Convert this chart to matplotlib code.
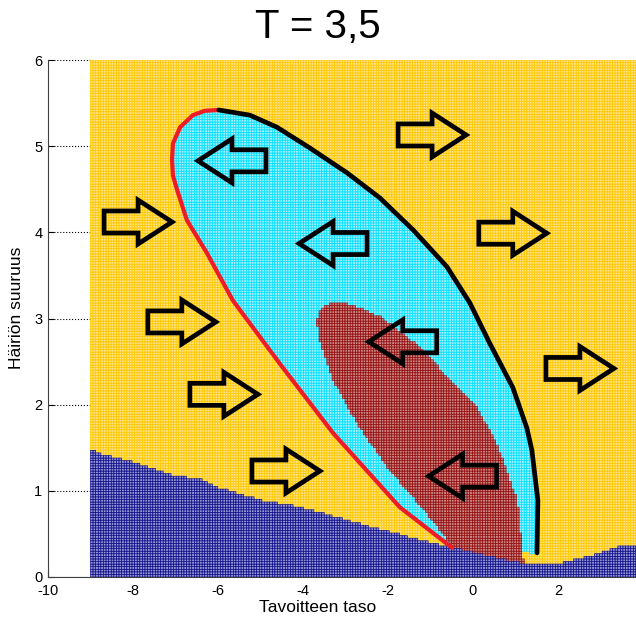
import numpy as np
import matplotlib
matplotlib.use('Agg')
import matplotlib.pyplot as plt
from matplotlib.colors import ListedColormap
from matplotlib.path import Path

plt.rcParams['font.family'] = ['Liberation Sans', 'DejaVu Sans']
plt.rcParams['axes.unicode_minus'] = False

# lower zone boundary (blue below)
blue_x = [-9.0, -8.85, -8.0, -7.06, -6.42, -6.02, -5.01, -4.07, -2.55, -1.25, -0.07, 1.11, 1.88, 2.68, 3.46, 3.9]
blue_y = [1.48, 1.44, 1.33, 1.18, 1.13, 1.04, 0.89, 0.81, 0.60, 0.43, 0.29, 0.16, 0.14, 0.23, 0.35, 0.37]

# red boundary, top to bottom
red_x = [-5.98, -6.31, -6.59, -6.89, -7.06, -7.08, -7.06, -6.96, -6.73, -6.26, -5.65, -4.52, -3.29, -1.72, -0.49]
red_y = [5.42, 5.41, 5.36, 5.22, 5.03, 4.84, 4.66, 4.49, 4.14, 3.76, 3.21, 2.46, 1.67, 0.81, 0.34]

# black boundary, top to bottom
black_x = [-5.98, -5.25, -4.61, -3.84, -2.96, -2.19, -1.41, -0.61, -0.07, 0.40, 0.94, 1.27, 1.39, 1.53, 1.51]
black_y = [5.42, 5.36, 5.22, 4.98, 4.69, 4.40, 4.03, 3.60, 3.18, 2.71, 2.20, 1.73, 1.47, 0.89, 0.28]

# inner (brown) zone outline
brown_x = [-3.67, -3.60, -3.36, -3.01, -2.73, -2.19, -1.25, -0.38, 0.05, 0.56, 1.04, 1.18, 1.18,
           -0.49, -0.47, -1.08, -2.02, -2.73, -3.29, -3.60]
brown_y = [2.98, 3.10, 3.17, 3.17, 3.13, 3.02, 2.67, 2.20, 2.00, 1.55, 0.89, 0.20, 0.0,
           0.0, 0.35, 0.74, 1.28, 1.79, 2.29, 2.75]

# direction arrows: centre and sense (+1 right, -1 left)
arrow_x = [-5.67, -0.96, 0.94, -3.29, -7.88, -6.85, -1.65, -5.86, 2.52, -4.40, -0.24]
arrow_y = [4.83, 5.13, 3.99, 3.87, 4.12, 2.96, 2.73, 2.12, 2.42, 1.23, 1.17]
arrow_dir = [-1, 1, 1, -1, 1, 1, -1, 1, 1, 1, -1]

# face / edge colours for yellow, cyan, brown, blue cells
face_cols = ['#FFE48A', '#A6F4FF', '#CC8484', '#9494D4']
edge_cols = ['#FFC800', '#00DDFF', '#8B0000', '#000080']
edge_lw = [0.55, 0.5, 0.45, 0.45]

xe = np.linspace(-9, 3.9, 212)
ye = np.linspace(0, 6, 201)
xc = 0.5 * (xe[1:] + xe[:-1])
yc = 0.5 * (ye[1:] + ye[:-1])
XC, YC = np.meshgrid(xc, yc)
pts = np.column_stack([XC.ravel(), YC.ravel()])

cat = np.zeros(XC.shape, dtype=int)
cyan_poly = Path(list(zip(black_x, black_y)) + list(zip(red_x[::-1], red_y[::-1])))
cat[cyan_poly.contains_points(pts).reshape(XC.shape)] = 1
brown_poly = Path(list(zip(brown_x, brown_y)))
cat[brown_poly.contains_points(pts).reshape(XC.shape)] = 2
cat[YC < np.interp(XC, blue_x, blue_y)] = 3

fig = plt.figure(figsize=(6.36, 6.17), dpi=100)
ax = fig.add_axes([48 / 636, 40 / 617, 588 / 636, 517 / 617])
ax.set_axisbelow(True)
ax.grid(axis='y', linestyle=':', color='black', linewidth=0.8)

for k in range(4):
    vals = np.ma.masked_where(cat != k, np.ones(cat.shape))
    ax.pcolor(xe, ye, vals, cmap=ListedColormap([face_cols[k]]),
              edgecolors=edge_cols[k], linewidth=edge_lw[k], zorder=1)

ax.plot(red_x, red_y, color='#EE1C24', linewidth=3, solid_capstyle='round', zorder=3)
ax.plot(black_x, black_y, color='black', linewidth=3.4, solid_capstyle='round', zorder=3)

# arrow geometry in data units
L, hl, sw, hw = 1.6, 0.8, 0.128, 0.255
shape_x = np.array([0, L - hl, L - hl, L, L - hl, L - hl, 0]) - L / 2
shape_y = np.array([sw, sw, hw, 0, -hw, -sw, -sw])
for cx, cy, d in zip(arrow_x, arrow_y, arrow_dir):
    ax.fill(cx + d * shape_x, cy + shape_y, facecolor='none', edgecolor='black',
            linewidth=3.4, joinstyle='miter', zorder=4)

ax.set_xlim(-10, 3.84)
ax.set_ylim(0, 6)
ax.set_xticks([-10, -8, -6, -4, -2, 0, 2])
ax.set_yticks([0, 1, 2, 3, 4, 5, 6])
ax.tick_params(direction='in', length=4, labelsize=10.5)
ax.tick_params(axis='x', pad=5)
ax.tick_params(axis='y', pad=4)
for s in ['top', 'right']:
    ax.spines[s].set_visible(False)
ax.spines['left'].set_color('#404040')
ax.spines['bottom'].set_color('#404040')

ax.set_xlabel('Tavoitteen taso', fontsize=12.5)
ax.xaxis.set_label_coords(0.458, -0.045)
ax.set_ylabel('Häiriön suuruus', fontsize=12.5)
ax.yaxis.set_label_coords(-0.04, 0.52)
fig.text(318 / 636, 1 - 27 / 617, 'T = 3,5', fontsize=29, ha='center', va='center')

fig.savefig('out.png', dpi=100)
